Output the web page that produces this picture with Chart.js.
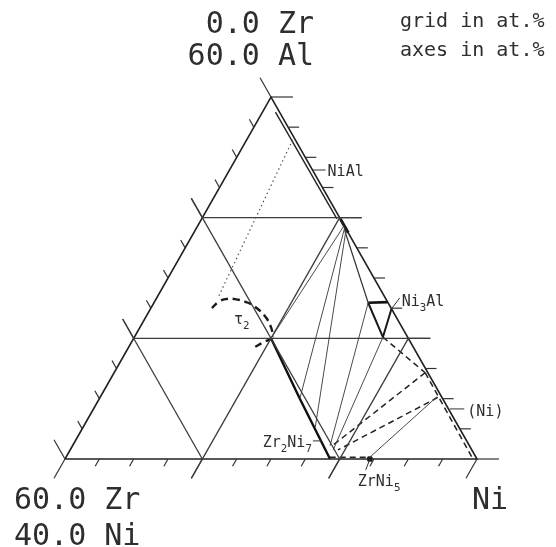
<!DOCTYPE html>
<html>
<head>
<meta charset="utf-8">
<script src="https://cdn.jsdelivr.net/npm/chart.js@4.4.0/dist/chart.umd.min.js"></script>
<style>
html, body { margin: 0; padding: 0; background: #fff; }
#wrap { width: 556px; height: 547px; }
</style>
</head>
<body>
<div id="wrap"><canvas id="myChart"></canvas></div>
<script>
// all compositions are [Al, Zr] in at.%, Ni is the balance
const zrTicks = [0, 5, 10, 15, 20, 25, 30, 35, 40, 45, 50, 55, 60];   // left edge (Ni = 40)
const alTicks = [0, 5, 10, 15, 20, 25, 30, 35, 40, 45, 50, 55, 60];   // right edge (Zr = 0)
const niTicks = [40, 45, 50, 55, 60, 65, 70, 75, 80, 85, 90, 95, 100]; // bottom edge (Al = 0)
const gridAl = [20, 40];
const gridZr = [20, 40];
const gridNi = [60, 80];
const majorEvery = 20;

const outline = [[0, 60], [0, 0], [60, 0], [0, 60]];

const niAlInner = [[57.5, 0.6], [39.8, 0.5]];
const niAlEnd = [[39.8, 0], [37.5, 0]];
const niAlToNi3Al = [[38.0, 0.3], [25.9, 2.9]];
const ni3AlTop = [[25.9, 2.9], [26.0, 0]];
const ni3AlSide = [[25.9, 2.9], [20.2, 3.6], [24.9, 0]];
const zr2Ni7 = [[20, 20], [10, 20.8], [0, 21.4]];

const tieLines = [
  [[20, 20], [38.6, 0.1]],
  [[10, 20.8], [38.2, 0.2]],
  [[5.3, 20.9], [37.8, 0.2]],
  [[2.2, 20.3], [25.9, 2.9]],
  [[1.5, 20.2], [20.2, 3.6]],
  [[0.2, 15.6], [10.3, 0.7]]
];
const dashedLines = [
  [[20.2, 3.6], [14.3, 0.4]],
  [[14.3, 0.4], [2.0, 20.3]],
  [[10.2, 0.6], [1.5, 19.5]],
  [[14.3, 0.4], [0.2, 0.6]],
  [[0.3, 21.3], [0.3, 15.6]]
];
const tau2Upper = [[25.0, 26.1], [26.0, 24.7], [26.5, 23.4], [26.5, 22.0], [25.9, 20.4],
                   [24.9, 19.5], [23.4, 19.0], [21.7, 19.1], [20.2, 19.6]];
const tau2Lower = [[18.6, 23.0], [19.4, 21.3], [19.9, 20.0]];
const dottedLine = [[52.9, 0.4], [26.9, 24.2]];
const zrNi5Point = [[0, 15.6]];

const leaders = [
  [[47.9, 0], [47.9, -1.9]],      // NiAl
  [[24.9, 0], [26.7, -2.1]],      // Ni3Al
  [[8.3, -0.2], [8.3, -2.3]],     // (Ni)
  [[3.0, 22.4], [3.0, 21.1]],     // Zr2Ni7
  [[-1.8, 17.1], [0, 15.6]]       // ZrNi5
];

// ternary -> cartesian
function toXY(p) {
  const al = p[0], zr = p[1], ni = 100 - al - zr;
  return { x: (ni - 40) / 60 + al / 120, y: al / 60 };
}

const datasets = [];
function addLine(pts, color, width, dash, tension) {
  datasets.push({
    data: pts.map(toXY),
    showLine: true,
    borderColor: color,
    borderWidth: width,
    borderDash: dash || [],
    pointRadius: 0,
    fill: false,
    tension: tension || 0
  });
}

// grid
gridAl.forEach(v => addLine([[v, 60 - v], [v, -3.2]], '#3c3c3c', 1.3));
gridZr.forEach(v => addLine([[63.2 - v, v], [0, v]], '#3c3c3c', 1.3));
gridNi.forEach(v => addLine([[-3.2, 103.2 - v], [100 - v, 0]], '#3c3c3c', 1.3));

// ticks
zrTicks.forEach(v => {
  const len = v % majorEvery === 0 ? 3.2 : 1.3;
  addLine([[60 - v, v], [60 - v + len, v]], '#333', 1.2);
});
alTicks.forEach(v => {
  const len = v % majorEvery === 0 ? 3.2 : 1.6;
  addLine([[v, 0], [v, -len]], '#333', 1.2);
});
niTicks.forEach(v => {
  const len = v % majorEvery === 0 ? 3.2 : 1.2;
  addLine([[0, 100 - v], [-len, 100 - v + len]], '#333', 1.2);
});

addLine(outline, '#222', 1.6);

tieLines.forEach(l => addLine(l, '#4a4a4a', 1));
dashedLines.forEach(l => addLine(l, '#222', 1.5, [6, 4]));
addLine(dottedLine, '#555', 1.2, [1.5, 3]);
addLine(tau2Upper, '#1a1a1a', 2.4, [7, 5], 0.4);
addLine(tau2Lower, '#1a1a1a', 2.4, [7, 5], 0.3);
leaders.forEach(l => addLine(l, '#333', 1));

addLine(niAlInner, '#222', 1.4);
addLine(niAlEnd, '#111', 3);
addLine(niAlToNi3Al, '#333', 1.2);
addLine(ni3AlTop, '#111', 2.6);
addLine(ni3AlSide, '#1a1a1a', 2);
addLine(zr2Ni7, '#111', 2.4);

datasets.push({
  data: zrNi5Point.map(toXY),
  pointStyle: 'rect',
  pointRadius: 3,
  backgroundColor: '#111',
  borderColor: '#111',
  showLine: false
});

const FONT = "'DejaVu Sans Mono', monospace";

function drawParts(ctx, parts, x, y, size, align) {
  const sub = size * 0.72;
  let total = 0;
  parts.forEach(p => {
    ctx.font = (p[1] ? sub : size) + 'px ' + FONT;
    total += ctx.measureText(p[0]).width;
  });
  let cx = align === 'right' ? x - total : x;
  ctx.textAlign = 'left';
  ctx.textBaseline = 'alphabetic';
  parts.forEach(p => {
    ctx.font = (p[1] ? sub : size) + 'px ' + FONT;
    ctx.fillText(p[0], cx, p[1] ? y + size * 0.32 : y);
    cx += ctx.measureText(p[0]).width;
  });
}

const labelPlugin = {
  id: 'labels',
  afterDatasetsDraw(chart) {
    const ctx = chart.ctx;
    const xs = chart.scales.x, ys = chart.scales.y;
    const px = p => { const c = toXY(p); return [xs.getPixelForValue(c.x), ys.getPixelForValue(c.y)]; };
    ctx.save();
    ctx.fillStyle = '#2e2e2e';

    const top = px([60, 0]), left = px([0, 60]), right = px([0, 0]);
    drawParts(ctx, [['0.0 Zr', 0]], top[0] + 43, 33, 30, 'right');
    drawParts(ctx, [['60.0 Al', 0]], top[0] + 43, 65, 30, 'right');
    drawParts(ctx, [['grid in at.%', 0]], 400, 27, 20, 'left');
    drawParts(ctx, [['axes in at.%', 0]], 400, 56, 20, 'left');
    drawParts(ctx, [['60.0 Zr', 0]], left[0] - 51, 509, 30, 'left');
    drawParts(ctx, [['40.0 Ni', 0]], left[0] - 51, 545, 30, 'left');
    drawParts(ctx, [['Ni', 0]], right[0] - 5, 509, 30, 'left');

    let a;
    a = px(leaders[0][1]); drawParts(ctx, [['NiAl', 0]], a[0] + 2, a[1] + 6, 15, 'left');
    a = px(leaders[1][1]); drawParts(ctx, [['Ni', 0], ['3', 1], ['Al', 0]], a[0] + 2, a[1] + 8, 15, 'left');
    a = px(leaders[2][1]); drawParts(ctx, [['(Ni)', 0]], a[0] + 3, a[1] + 7, 15, 'left');
    a = px(leaders[3][0]); drawParts(ctx, [['Zr', 0], ['2', 1], ['Ni', 0], ['7', 1]], a[0] - 1, a[1] + 6, 15, 'right');
    a = px(leaders[4][0]); drawParts(ctx, [['ZrNi', 0], ['5', 1]], a[0] - 8, a[1] + 16, 15, 'left');
    a = px([20, 20]); drawParts(ctx, [['τ', 0], ['2', 1]], a[0] - 37, a[1] - 14, 15, 'left');
    ctx.restore();
  }
};

const config = {
  type: 'scatter',
  data: { datasets: datasets },
  options: {
    responsive: true,
    maintainAspectRatio: false,
    animation: false,
    events: [],
    layout: { padding: 0, autoPadding: false },
    plugins: {
      legend: { display: false },
      tooltip: { enabled: false },
      title: { display: false }
    },
    scales: {
      x: { type: 'linear', min: -0.157767, max: 1.191748, display: false },
      y: { type: 'linear', min: -0.243094, max: 1.267956, display: false }
    }
  },
  plugins: [labelPlugin]
};

/* Rendering the Chart */
const myChart = new Chart(document.getElementById('myChart'), config);
</script>
</body>
</html>
